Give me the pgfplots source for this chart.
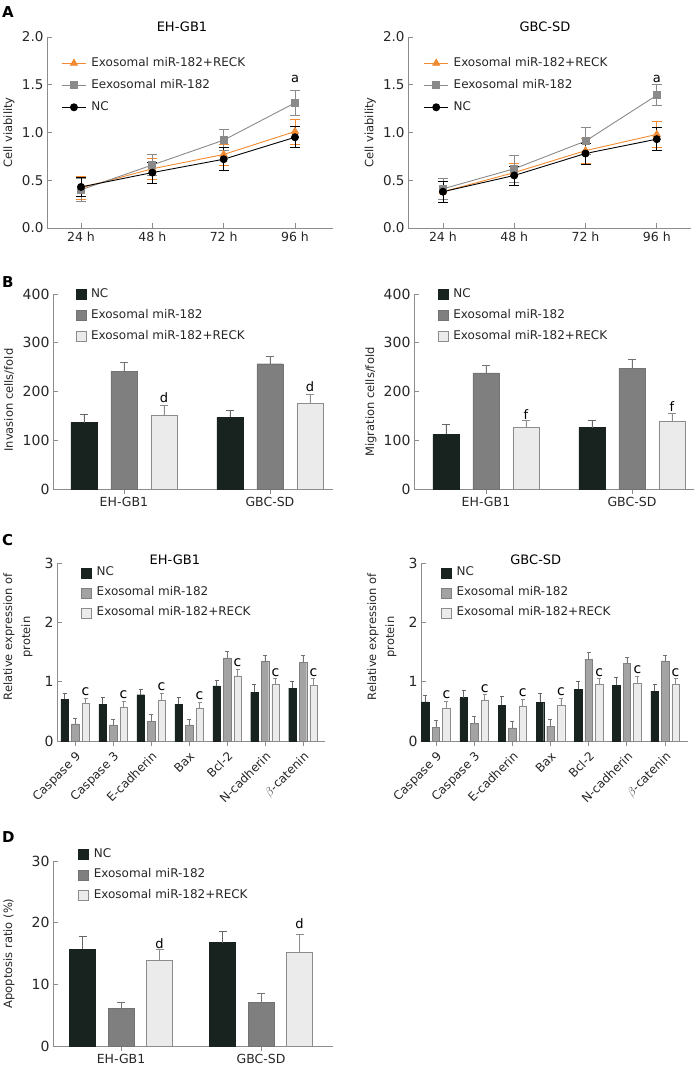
\documentclass[border=0pt]{standalone}
\usepackage{fontspec}
\setmainfont{DejaVu Sans}
\usepackage{pgfplots}
\pgfplotsset{compat=1.18}
\definecolor{ncc}{HTML}{18231F}
\definecolor{mirc}{HTML}{7F7F7F}
\definecolor{mircC}{HTML}{A3A3A3}
\definecolor{reckc}{HTML}{EBEBEB}
\definecolor{bordc}{HTML}{8C8C8C}
\definecolor{orng}{HTML}{F28A30}
\definecolor{sqg}{HTML}{8A8A8A}
\definecolor{axc}{HTML}{8C8C8C}
\definecolor{txt}{HTML}{262626}
\pgfplotsset{
  base/.style={scale only axis, axis lines=left, axis line style={axc,-,line width=0.8pt},
    tick style={axc, line width=0.8pt}, major tick length=5pt, tick align=inside, ymin=0, clip=false,
    /pgf/number format/assume math mode=true,
    yticklabel style={font=\fontsize{14}{15}\selectfont, text=txt},
    xticklabel style={font=\fontsize{12.5}{15}\selectfont, text=txt},
    every axis y label/.style={rotate=90, anchor=center, font=\fontsize{11.5}{18}\selectfont, text=txt, align=center},
    every axis title/.style={anchor=base, font=\fontsize{13}{15}\selectfont},
    legend cell align=left,
    legend style={draw=none, fill=none, anchor=north west, inner sep=0pt, row sep=7pt,
      font=\fontsize{12}{14}\selectfont, text=txt,
      nodes={inner sep=1pt, text height=9pt, text depth=3pt},
      /tikz/every odd column/.append style={column sep=4pt}},
  },
  lineA/.style={base, xmin=-0.477, xmax=3.533, ymax=2, ytick={0,0.5,...,2},
    yticklabel style={/pgf/number format/fixed, /pgf/number format/fixed zerofill, /pgf/number format/precision=1},
    xtick={0,1,2,3}, xticklabels={24 h, 48 h, 72 h, 96 h},
    legend image code/.code={\draw[mark repeat=2,mark phase=2,#1] plot coordinates {(0pt,0pt) (12pt,0pt) (24pt,0pt)};},
    error bars/y dir=both, error bars/y explicit,
    legend style={row sep=8pt}},
  barleg/.style={legend image code/.code={\draw[##1] (0pt,-5pt) rectangle (10pt,5pt);}},
  ebB/.style={error bars/.cd, y dir=plus, y explicit, error bar style={line width=0.8pt,color=#1},
    error mark options={rotate=90, mark size=4pt, line width=0.8pt, color=#1}},
  ebC/.style={error bars/.cd, y dir=plus, y explicit, error bar style={line width=0.6pt,color=#1},
    error mark options={rotate=90, mark size=2pt, line width=0.6pt, color=#1}},
  ncbar/.style={fill=ncc, draw=ncc},
  mirbar/.style={fill=mirc, draw=black!55},
  mirbarC/.style={fill=mircC, draw=black!50},
  reckbar/.style={fill=reckc, draw=bordc},
  ebLine/.style={error bars/.cd, error bar style={line width=0.8pt,color=#1},
    error mark options={rotate=90, mark size=5pt, line width=0.8pt, color=#1}},
}
\begin{document}
\begin{tikzpicture}[x=1pt,y=1pt]
\useasboundingbox (0pt,0pt) rectangle (696pt,1068pt);
% panel letters
\node[anchor=north west, inner sep=0pt, font=\fontsize{15}{15}\selectfont\bfseries] at (2pt,1062pt) {A};
\node[anchor=north west, inner sep=0pt, font=\fontsize{15}{15}\selectfont\bfseries] at (2pt,792pt) {B};
\node[anchor=north west, inner sep=0pt, font=\fontsize{15}{15}\selectfont\bfseries] at (2pt,534pt) {C};
\node[anchor=north west, inner sep=0pt, font=\fontsize{15}{15}\selectfont\bfseries] at (2pt,237pt) {D};

% ---------- A left
\begin{axis}[lineA, at={(47pt,840pt)}, anchor=south west, width=286pt, height=191pt,
  yticklabel style={font=\fontsize{13.5}{15}\selectfont},
  title={EH-GB1}, title style={at={(axis description cs:0.472,1)}, yshift=5pt},
  ylabel={Cell viability}, ylabel style={at={(axis description cs:-0.133,0.5)}},
  legend style={at={(axis description cs:0.05,0.9)}}]
\addplot[orng, line width=0.9pt, mark=triangle*, mark size=4pt, ebLine=orng] coordinates {(0,0.42) +- (0,0.12) (1,0.62) +- (0,0.11) (2,0.77) +- (0,0.11) (3,1.01) +- (0,0.13)};
\addlegendentry{Exosomal miR-182+RECK}
\addplot[sqg, line width=0.9pt, mark=square*, mark size=3.5pt, ebLine=sqg] coordinates {(0,0.40) +- (0,0.12) (1,0.66) +- (0,0.11) (2,0.92) +- (0,0.11) (3,1.31) +- (0,0.13)};
\addlegendentry{Eexosomal miR-182}
\addplot[black, line width=0.9pt, mark=*, mark size=3.5pt, ebLine=black] coordinates {(0,0.43) +- (0,0.10) (1,0.58) +- (0,0.11) (2,0.72) +- (0,0.12) (3,0.95) +- (0,0.11)};
\addlegendentry{NC}
\node[anchor=base, font=\fontsize{13}{15}\selectfont] at (axis cs:3,1.52) {a};
\end{axis}

% ---------- A right
\begin{axis}[lineA, at={(408pt,840pt)}, anchor=south west, width=283pt, height=191pt, xmin=-0.49, xmax=3.48,
  yticklabel style={font=\fontsize{13.5}{15}\selectfont},
  title={GBC-SD}, title style={at={(axis description cs:0.484,1)}, yshift=5pt},
  ylabel={Cell viability}, ylabel style={at={(axis description cs:-0.134,0.5)}},
  legend style={at={(axis description cs:0.055,0.9)}}]
\addplot[orng, line width=0.9pt, mark=triangle*, mark size=4pt, ebLine=orng] coordinates {(0,0.38) +- (0,0.11) (1,0.58) +- (0,0.10) (2,0.81) +- (0,0.13) (3,0.98) +- (0,0.14)};
\addlegendentry{Exosomal miR-182+RECK}
\addplot[sqg, line width=0.9pt, mark=square*, mark size=3.5pt, ebLine=sqg] coordinates {(0,0.41) +- (0,0.11) (1,0.62) +- (0,0.14) (2,0.91) +- (0,0.14) (3,1.39) +- (0,0.11)};
\addlegendentry{Eexosomal miR-182}
\addplot[black, line width=0.9pt, mark=*, mark size=3.5pt, ebLine=black] coordinates {(0,0.38) +- (0,0.11) (1,0.55) +- (0,0.10) (2,0.78) +- (0,0.11) (3,0.93) +- (0,0.12)};
\addlegendentry{NC}
\node[anchor=base, font=\fontsize{13}{15}\selectfont] at (axis cs:3,1.52) {a};
\end{axis}

% ---------- B left
\begin{axis}[base, at={(53pt,579pt)}, anchor=south west, width=280pt, height=195pt,
  ybar=14pt, bar width=26pt, xmin=-0.486, xmax=1.432, ymax=400, ytick={0,100,...,400},
  xtick={0,1}, xticklabels={EH-GB1, GBC-SD},
  ylabel={Invasion cells/fold}, ylabel style={at={(axis description cs:-0.157,0.456)}},
  legend style={at={(axis description cs:0.08,1.035)}}, barleg]
\addplot[ncbar, ebB=black!60] coordinates {(0,136) +- (0,17) (1,147) +- (0,15)};
\addlegendentry{NC}
\addplot[mirbar, ebB=black!55] coordinates {(0,242) +- (0,17) (1,257) +- (0,14)};
\addlegendentry{Exosomal miR-182}
\addplot[reckbar, ebB=bordc] coordinates {(0,151) +- (0,21) (1,175) +- (0,20)};
\addlegendentry{Exosomal miR-182+RECK}
\node[anchor=base, xshift=40pt, font=\fontsize{13}{15}\selectfont] at (axis cs:0,178) {d};
\node[anchor=base, xshift=40pt, font=\fontsize{13}{15}\selectfont] at (axis cs:1,199) {d};
\end{axis}

% ---------- B right
\begin{axis}[base, at={(414pt,579pt)}, anchor=south west, width=280pt, height=195pt,
  ybar=14pt, bar width=26pt, xmin=-0.493, xmax=1.425, ymax=400, ytick={0,100,...,400},
  xtick={0,1}, xticklabels={EH-GB1, GBC-SD},
  ylabel={Migration cells/fold}, ylabel style={at={(axis description cs:-0.154,0.446)}},
  legend style={at={(axis description cs:0.085,1.035)}}, barleg]
\addplot[ncbar, ebB=black!60] coordinates {(0,112) +- (0,21) (1,126) +- (0,14)};
\addlegendentry{NC}
\addplot[mirbar, ebB=black!55] coordinates {(0,238) +- (0,16) (1,248) +- (0,18)};
\addlegendentry{Exosomal miR-182}
\addplot[reckbar, ebB=bordc] coordinates {(0,126) +- (0,14) (1,139) +- (0,17)};
\addlegendentry{Exosomal miR-182+RECK}
\node[anchor=base, xshift=40pt, font=\fontsize{13}{15}\selectfont] at (axis cs:0,142) {f};
\node[anchor=base, xshift=40pt, font=\fontsize{13}{15}\selectfont] at (axis cs:1,159) {f};
\end{axis}

% ---------- C left
\begin{axis}[base, at={(57pt,327pt)}, anchor=south west, width=268pt, height=178pt,
  ybar=3pt, bar width=7.5pt, xmin=-0.476, xmax=6.58, ymax=3, ytick={0,1,2,3},
  xtick={0,...,6}, xticklabels={Caspase 9, Caspase 3, E-cadherin, Bax, Bcl-2, N-cadherin, $\beta$-catenin},
  xticklabel style={rotate=45, anchor=north east, font=\fontsize{12}{14}\selectfont},
  title={EH-GB1}, title style={at={(axis description cs:0.44,1)}, yshift=-2pt},
  ylabel={Relative expression of\\protein}, ylabel style={at={(axis description cs:-0.146,0.584)}},
  legend style={at={(axis description cs:0.09,0.985)}, row sep=6pt}, barleg]
\addplot[ncbar, ebC=black!60] coordinates {(0,0.70) +- (0,0.10) (1,0.62) +- (0,0.11) (2,0.78) +- (0,0.09) (3,0.62) +- (0,0.11) (4,0.93) +- (0,0.10) (5,0.82) +- (0,0.13) (6,0.89) +- (0,0.11)};
\addlegendentry{NC}
\addplot[mirbarC, ebC=black!55] coordinates {(0,0.29) +- (0,0.09) (1,0.27) +- (0,0.10) (2,0.33) +- (0,0.12) (3,0.27) +- (0,0.10) (4,1.40) +- (0,0.11) (5,1.34) +- (0,0.11) (6,1.33) +- (0,0.11)};
\addlegendentry{Exosomal miR-182}
\addplot[reckbar, ebC=bordc] coordinates {(0,0.63) +- (0,0.09) (1,0.57) +- (0,0.10) (2,0.68) +- (0,0.12) (3,0.55) +- (0,0.10) (4,1.10) +- (0,0.11) (5,0.95) +- (0,0.10) (6,0.94) +- (0,0.11)};
\addlegendentry{Exosomal miR-182+RECK}
\foreach \i/\v in {0/0.74,1/0.69,2/0.82,3/0.67,4/1.23,5/1.07,6/1.07}{
  \edef\temp{\noexpand\node[anchor=south, xshift=10.5pt, inner sep=1pt, font=\noexpand\fontsize{14}{15}\noexpand\selectfont] at (axis cs:\i,\v) {c};}
  \temp
}
\end{axis}

% ---------- C right
\begin{axis}[base, at={(421pt,327pt)}, anchor=south west, width=267pt, height=178pt,
  ybar=3pt, bar width=7.5pt, xmin=-0.39, xmax=6.6, ymax=3, ytick={0,1,2,3},
  xtick={0,...,6}, xticklabels={Caspase 9, Caspase 3, E-cadherin, Bax, Bcl-2, N-cadherin, $\beta$-catenin},
  xticklabel style={rotate=45, anchor=north east, font=\fontsize{12}{14}\selectfont},
  title={GBC-SD}, title style={at={(axis description cs:0.43,1)}, yshift=-2pt},
  ylabel={Relative expression of\\protein}, ylabel style={at={(axis description cs:-0.146,0.584)}},
  legend style={at={(axis description cs:0.075,0.985)}, row sep=6pt}, barleg]
\addplot[ncbar, ebC=black!60] coordinates {(0,0.66) +- (0,0.11) (1,0.73) +- (0,0.12) (2,0.60) +- (0,0.15) (3,0.65) +- (0,0.15) (4,0.87) +- (0,0.13) (5,0.94) +- (0,0.14) (6,0.84) +- (0,0.12)};
\addlegendentry{NC}
\addplot[mirbarC, ebC=black!55] coordinates {(0,0.23) +- (0,0.12) (1,0.30) +- (0,0.11) (2,0.22) +- (0,0.11) (3,0.25) +- (0,0.12) (4,1.38) +- (0,0.12) (5,1.31) +- (0,0.10) (6,1.35) +- (0,0.10)};
\addlegendentry{Exosomal miR-182}
\addplot[reckbar, ebC=bordc] coordinates {(0,0.56) +- (0,0.11) (1,0.69) +- (0,0.09) (2,0.59) +- (0,0.11) (3,0.61) +- (0,0.11) (4,0.96) +- (0,0.09) (5,0.97) +- (0,0.12) (6,0.96) +- (0,0.09)};
\addlegendentry{Exosomal miR-182+RECK}
\foreach \i/\v in {0/0.69,1/0.80,2/0.72,3/0.74,4/1.07,5/1.11,6/1.07}{
  \edef\temp{\noexpand\node[anchor=south, xshift=10.5pt, inner sep=1pt, font=\noexpand\fontsize{14}{15}\noexpand\selectfont] at (axis cs:\i,\v) {c};}
  \temp
}
\end{axis}

% ---------- D
\begin{axis}[base, at={(53pt,22pt)}, anchor=south west, width=280pt, height=185pt,
  ybar=12.5pt, bar width=26pt, xmin=-0.486, xmax=1.514, ymax=30, ytick={0,10,20,30},
  xtick={0,1}, xticklabels={EH-GB1, GBC-SD},
  ylabel={Apoptosis ratio (\%)}, ylabel style={at={(axis description cs:-0.157,0.5)}},
  legend style={at={(axis description cs:0.09,1.075)}, row sep=6.5pt}, barleg]
\addplot[ncbar, ebB=black!60] coordinates {(0,15.65) +- (0,2.15) (1,16.78) +- (0,1.78)};
\addlegendentry{NC}
\addplot[mirbar, ebB=black!55] coordinates {(0,6.15) +- (0,0.95) (1,7.12) +- (0,1.46)};
\addlegendentry{Exosomal miR-182}
\addplot[reckbar, ebB=bordc] coordinates {(0,13.87) +- (0,1.78) (1,15.16) +- (0,2.92)};
\addlegendentry{Exosomal miR-182+RECK}
\node[anchor=base, xshift=38.5pt, font=\fontsize{13}{15}\selectfont] at (axis cs:0,15.8) {d};
\node[anchor=base, xshift=38.5pt, font=\fontsize{13}{15}\selectfont] at (axis cs:1,19.05) {d};
\end{axis}
\end{tikzpicture}
\end{document}
